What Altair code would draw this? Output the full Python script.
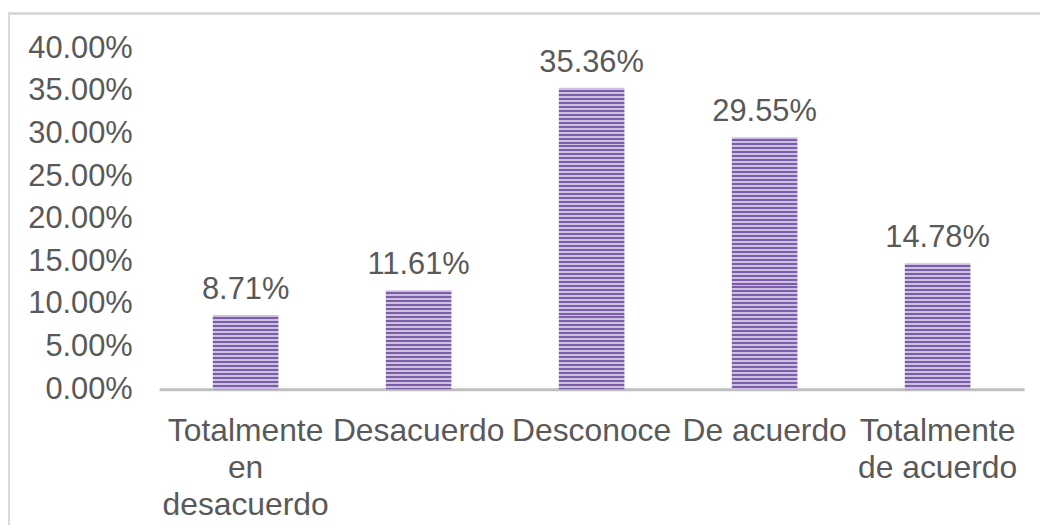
import math
import altair as alt
import pandas as pd

categories = ["Totalmente en desacuerdo", "Desacuerdo", "Desconoce", "De acuerdo", "Totalmente de acuerdo"]
label_lines = [["Totalmente", "en", "desacuerdo"], ["Desacuerdo"], ["Desconoce"], ["De acuerdo"], ["Totalmente", "de acuerdo"]]
values = [0.0871, 0.1161, 0.3536, 0.2955, 0.1478]
y_ticks = [0.0, 0.05, 0.10, 0.15, 0.20, 0.25, 0.30, 0.35, 0.40]

df = pd.DataFrame({"cat": categories, "val": values})

W, H = 870, 343
YMAX = 0.40
FONT = "Liberation Sans"
TXT = "#595959"
DARK = "#7b5ea7"
LIGHT = "#cdbfe2"
PERIOD = 4.0

expr = "''"
for c, lines in reversed(list(zip(categories, label_lines))):
    arr = "[" + ",".join("'" + l + "'" for l in lines) + "]"
    expr = f"datum.value == '{c}' ? {arr} : ({expr})"

x_enc = alt.X("cat:N", sort=categories, title=None,
              scale=alt.Scale(paddingInner=0, paddingOuter=0),
              axis=alt.Axis(labelAngle=0, labelFont=FONT, labelFontSize=32, labelColor=TXT,
                            labelExpr=expr, labelLineHeight=37, labelPadding=27,
                            ticks=False, grid=False, domainColor="#bfbfbf", domainWidth=3,
                            labelLimit=300))
y_enc = alt.Y("val:Q", title=None, scale=alt.Scale(domain=[0, YMAX], nice=False),
              axis=alt.Axis(values=y_ticks, format=".2%", labelFont=FONT, labelFontSize=31,
                            labelColor=TXT, labelPadding=27, ticks=False, grid=False, domain=False))

def stripes(v):
    # constant stripe period in pixels: gradient spans a whole number of periods
    h = v / YMAX * H
    n = max(1, math.ceil(h / PERIOD))
    stops = []
    for i in range(n):
        a = i / n
        m = (i + 0.5) / n
        b = (i + 1) / n
        stops += [alt.GradientStop(offset=a, color=LIGHT), alt.GradientStop(offset=m, color=LIGHT),
                  alt.GradientStop(offset=m, color=DARK), alt.GradientStop(offset=b, color=DARK)]
    return alt.LinearGradient(gradient="linear", stops=stops, x1=0, x2=0, y1=0, y2=n * PERIOD / h)

base = alt.Chart(df)

border = base.mark_rect(fillOpacity=0, stroke="#d9d9d9", strokeWidth=2).encode(
    x=alt.value(-151), x2=alt.value(W + 40), y=alt.value(-35), y2=alt.value(H + 200))

layers = [border]
for c, v in zip(categories, values):
    layers.append(base.transform_filter(alt.datum.cat == c).mark_bar(size=66, color=stripes(v)).encode(x=x_enc, y=y_enc))

text = base.mark_text(font=FONT, fontSize=31, color=TXT, baseline="alphabetic", dy=-16).encode(
    x=alt.X("cat:N", sort=categories), y="val:Q", text=alt.Text("val:Q", format=".2%"))
layers.append(text)

chart = alt.layer(*layers).properties(
    width=W, height=H, autosize="none", background="white",
    padding={"left": 152, "top": 39, "right": 16, "bottom": 135},
).configure_view(stroke=None)

chart.save("out.html", embed_options={"renderer": "svg", "actions": False})
